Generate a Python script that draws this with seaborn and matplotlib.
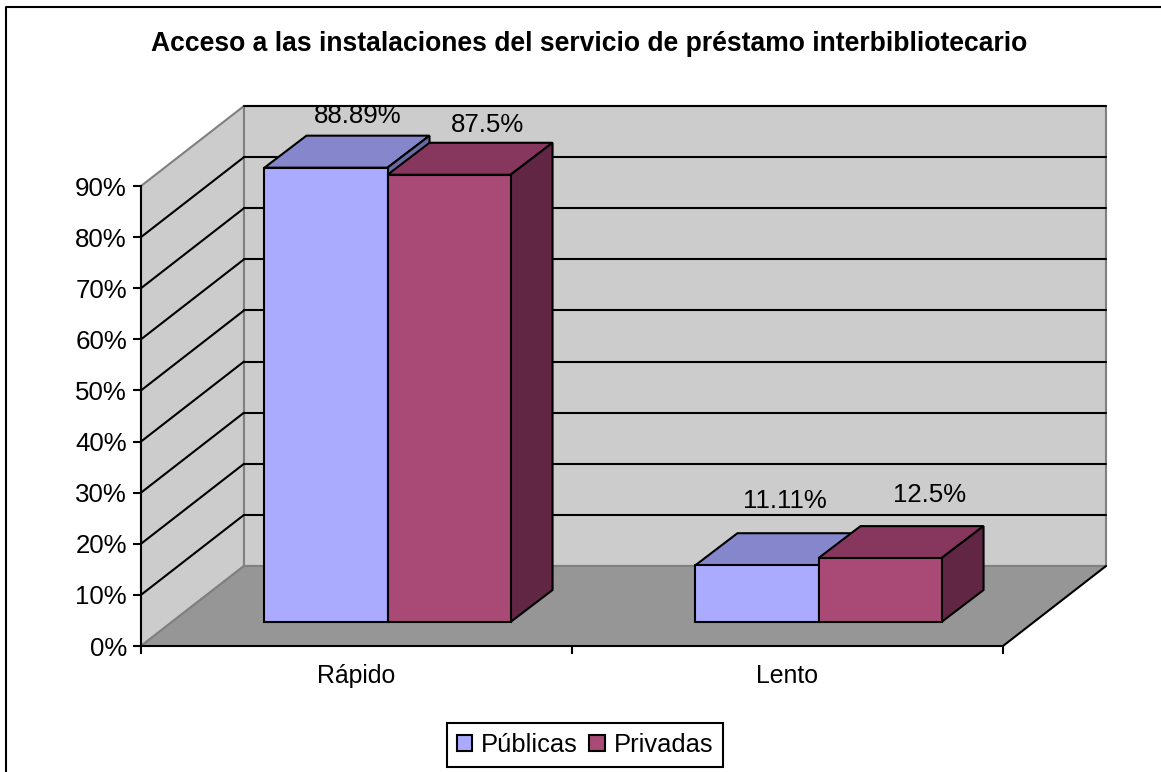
import numpy as np
import pandas as pd
import matplotlib
matplotlib.use("Agg")
import matplotlib.pyplot as plt
from matplotlib.patches import Polygon
from matplotlib.lines import Line2D
from matplotlib.transforms import Affine2D, IdentityTransform
import seaborn as sns

# ---- data ----
categories = ["Rápido", "Lento"]
publicas = [88.89, 11.11]
privadas = [87.5, 12.5]
series_names = ["Públicas", "Privadas"]
title_text = "Acceso a las instalaciones del servicio de préstamo interbibliotecario"

# ---- styling ----
front_colors = ["#AAABFF", "#A94A76"]
top_colors = ["#8586CC", "#87375E"]
side_colors = ["#6A6BA3", "#602644"]
WALL = "#CCCCCC"
FLOOR = "#969696"
EDGE = "#808080"
FS = 18.6
FS_CAT = 17.9
FS_LEG = 18.4
LW = 1.5
W, H = 1161, 772
FULL_DEPTH = np.array([103.0, 80.0])   # px: front plane to back wall
BAR_SHIFT = np.array([31.0, 24.0])     # px: front plane to bar front
BAR_DEPTH = np.array([42.0, 32.0])     # px: bar front to bar back
label_offsets = [[(32, 52), (28, 64)], [(38, 50), (50, 63)]]  # px from bar front-top centre

sns.set_theme(style="white")
plt.rcParams["font.family"] = ["Liberation Sans", "DejaVu Sans"]
plt.rcParams["text.color"] = "black"

df = pd.DataFrame({
    "cat": categories * 2,
    "serie": [series_names[0]] * 2 + [series_names[1]] * 2,
    "val": publicas + privadas,
})

fig = plt.figure(figsize=(W / 100, H / 100), dpi=100, facecolor="white")
ax = fig.add_axes([141 / W, (H - 646) / H, 862 / W, 460 / H])
ax.patch.set_visible(False)

sns.barplot(data=df, x="cat", y="val", hue="serie", order=categories,
            hue_order=series_names, palette=front_colors, width=0.571, gap=0,
            saturation=1, edgecolor="black", linewidth=LW,
            errorbar=None, ax=ax)
ax.set_xlim(-0.5, 1.5)
ax.set_ylim(0, 90)
ax.set_xlabel("")
ax.set_ylabel("")

def disp(x, y, off=(0, 0)):
    return ax.transData.transform((x, y)) + np.asarray(off, dtype=float)

def poly(points, face, edge, z, lw=LW):
    ax.add_patch(Polygon(points, closed=True, facecolor=face, edgecolor=edge, linewidth=lw,
                         transform=IdentityTransform(), clip_on=False, zorder=z,
                         joinstyle="miter"))

def seg(a, b, color, z, lw=LW):
    ax.add_line(Line2D([a[0], b[0]], [a[1], b[1]], color=color, linewidth=lw,
                       transform=IdentityTransform(), clip_on=False, zorder=z))

# walls and floor
x0, x1 = ax.get_xlim()
y0, y1 = ax.get_ylim()
D = FULL_DEPTH
poly([disp(x0, y0), disp(x0, y1), disp(x0, y1, D), disp(x0, y0, D)], WALL, EDGE, 0.5)
poly([disp(x0, y0, D), disp(x0, y1, D), disp(x1, y1, D), disp(x1, y0, D)], WALL, EDGE, 0.5)
poly([disp(x0, y0), disp(x1, y0), disp(x1, y0, D), disp(x0, y0, D)], FLOOR, "none", 0.6)
seg(disp(x0, y0, D), disp(x1, y0, D), EDGE, 0.7)
seg(disp(x0, y0), disp(x0, y0, D), EDGE, 0.7)
seg(disp(x1, y0), disp(x1, y0, D), "black", 0.7)

# gridlines
yticks = list(range(0, 100, 10))
for t in yticks[1:]:
    seg(disp(x0, t, D), disp(x1, t, D), "black", 0.8)
    if t < yticks[-1]:
        seg(disp(x0, t), disp(x0, t, D), "black", 0.8)

# 3D bars built on seaborn's bars
shift = Affine2D().translate(*BAR_SHIFT)
for s, container in enumerate(ax.containers):
    for c, bar in enumerate(container):
        xl, w, h = bar.get_x(), bar.get_width(), bar.get_height()
        z = 2 + s * 2 + c * 0.1
        a = disp(xl, h, BAR_SHIFT)
        b = disp(xl + w, h, BAR_SHIFT)
        e = disp(xl + w, 0, BAR_SHIFT)
        poly([a, b, b + BAR_DEPTH, a + BAR_DEPTH], top_colors[s], "black", z)
        poly([b, e, e + BAR_DEPTH, b + BAR_DEPTH], side_colors[s], "black", z)
        bar.set_transform(ax.transData + shift)
        bar.set_clip_on(False)
        bar.set_zorder(z + 0.5)
        ax.annotate(f"{h:g}%", xy=(xl + w / 2, h), xycoords="data",
                    xytext=(BAR_SHIFT[0] + label_offsets[s][c][0],
                            BAR_SHIFT[1] + label_offsets[s][c][1]),
                    textcoords="offset pixels", ha="center", va="center",
                    fontsize=FS, color="black", annotation_clip=False, zorder=10)

# axes
for name in ("top", "right"):
    ax.spines[name].set_visible(False)
for name in ("left", "bottom"):
    ax.spines[name].set_visible(True)
    ax.spines[name].set_color("black")
    ax.spines[name].set_linewidth(LW)
    ax.spines[name].set_zorder(1)
ax.set_axisbelow(False)
ax.set_yticks(yticks, [f"{t}%" for t in yticks])
ax.set_xticks([-0.5, 0.5, 1.5], ["", "", ""])
ax.set_xticks([0, 1], categories, minor=True)
ax.tick_params(axis="y", which="major", left=True, length=5.8, width=LW, color="black",
               labelsize=FS, pad=4.3, labelcolor="black")
ax.tick_params(axis="x", which="major", bottom=True, length=5.8, width=LW, color="black")
ax.tick_params(axis="x", which="minor", bottom=False, length=0, labelsize=FS_CAT, pad=13,
               labelcolor="black")
ax.grid(False)

# legend
sns.move_legend(ax, loc="center", bbox_to_anchor=(585 / W, (H - 745) / H),
                bbox_transform=fig.transFigure, ncols=2, title=None, frameon=True,
                fancybox=False, edgecolor="black", framealpha=1, fontsize=FS_LEG,
                labelcolor="black", handlelength=0.6, handleheight=0.6, handletextpad=0.35,
                columnspacing=0.45, borderpad=0.38, borderaxespad=0)
leg = ax.get_legend()
leg.get_frame().set_linewidth(LW)
leg.set_zorder(20)

# title and outer border
fig.text(589.5 / W, (H - 44) / H, title_text, ha="center", va="center",
         fontsize=19.1, fontweight="bold", color="black")
fig.add_artist(Line2D([5.5 / W, 5.5 / W, 1], [0, (H - 6.5) / H, (H - 6.5) / H],
                      color="black", linewidth=LW, transform=fig.transFigure))

fig.savefig("out.png", dpi=100, facecolor="white")
